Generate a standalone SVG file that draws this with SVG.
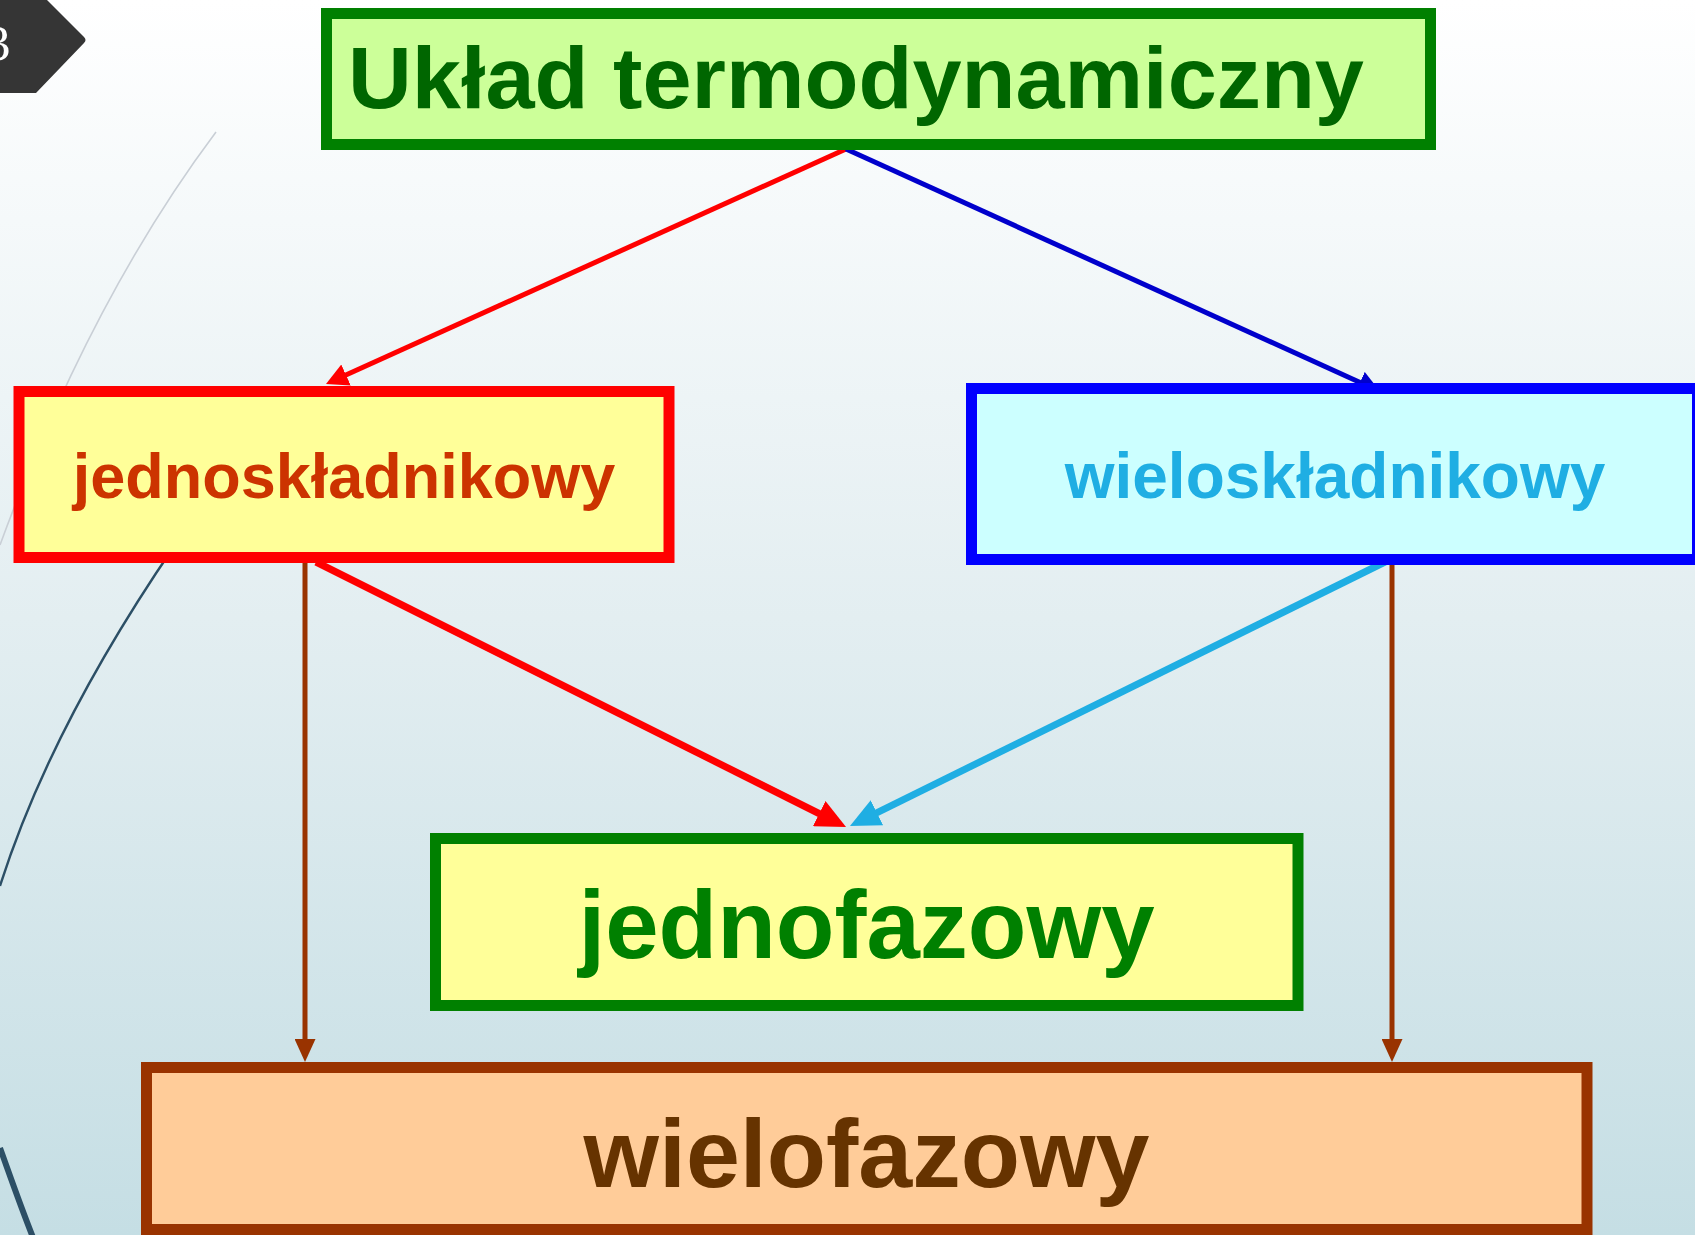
<svg xmlns="http://www.w3.org/2000/svg" width="1695" height="1235" viewBox="0 0 1695 1235">
  <defs>
    <linearGradient id="bg" x1="0" y1="0" x2="0" y2="1">
      <stop offset="0" stop-color="#FFFFFF"/>
      <stop offset="0.5" stop-color="#E3EEF1"/>
      <stop offset="1" stop-color="#C5DEE4"/>
    </linearGradient>
    <marker id="arRedS" markerUnits="userSpaceOnUse" markerWidth="22" markerHeight="23" refX="2" refY="11.5" orient="auto" viewBox="0 0 22 23">
      <path d="M0,0 L22,11.5 L0,23 z" fill="#FF0000"/>
    </marker>
    <marker id="arBlueS" markerUnits="userSpaceOnUse" markerWidth="22" markerHeight="23" refX="2" refY="11.5" orient="auto" viewBox="0 0 22 23">
      <path d="M0,0 L22,11.5 L0,23 z" fill="#0000CC"/>
    </marker>
    <marker id="arRedL" markerUnits="userSpaceOnUse" markerWidth="30" markerHeight="28" refX="2" refY="14" orient="auto" viewBox="0 0 30 28">
      <path d="M0,0 L30,14 L0,28 z" fill="#FF0000"/>
    </marker>
    <marker id="arCyanL" markerUnits="userSpaceOnUse" markerWidth="30" markerHeight="28" refX="2" refY="14" orient="auto" viewBox="0 0 30 28">
      <path d="M0,0 L30,14 L0,28 z" fill="#1FAEE3"/>
    </marker>
    <marker id="arBrown" markerUnits="userSpaceOnUse" markerWidth="23" markerHeight="21" refX="2" refY="10.5" orient="auto" viewBox="0 0 23 21">
      <path d="M0,0 L23,10.5 L0,21 z" fill="#993300"/>
    </marker>
  </defs>
  <style>
    .lbl { font-family: "Liberation Sans", Arial, sans-serif; font-weight: bold; }
    .box { stroke-width: 11; }
    .conn { fill: none; stroke-linecap: butt; }
  </style>

  <rect x="0" y="0" width="1695" height="1235" fill="url(#bg)"/>

  <!-- decorative background -->
  <g id="decor">
    <path d="M216,132 Q90,300 0,545" fill="none" stroke="#C9CFD6" stroke-width="1.6"/>
    <path d="M175,545 C110,640 40,760 0,886" fill="none" stroke="#2C4F66" stroke-width="2.4"/>
    <path d="M0,1148 C8,1170 20,1205 34,1240" fill="none" stroke="#2C4F66" stroke-width="6"/>
    <path d="M0,0 L47,0 L84,37 Q87,40 84,43 L36,93 L0,93 z" fill="#353535"/>
    <text x="-15" y="60" font-family="'Liberation Serif', 'Times New Roman', serif" font-size="51" fill="#FFFFFF">3</text>
  </g>

  <!-- connectors -->
  <g id="connectors">
    <line class="conn" x1="846" y1="149" x2="344.2" y2="375.8" stroke="#FF0000" stroke-width="5" marker-end="url(#arRedS)"/>
    <line class="conn" x1="846" y1="149" x2="1361.8" y2="383.2" stroke="#0000CC" stroke-width="5" marker-end="url(#arBlueS)"/>
    <line class="conn" x1="316" y1="562" x2="821" y2="814.5" stroke="#FF0000" stroke-width="7" marker-end="url(#arRedL)"/>
    <line class="conn" x1="1387" y1="561" x2="875.1" y2="813.6" stroke="#1FAEE3" stroke-width="7" marker-end="url(#arCyanL)"/>
    <line class="conn" x1="305" y1="557" x2="305" y2="1041" stroke="#993300" stroke-width="5" marker-end="url(#arBrown)"/>
    <line class="conn" x1="1392" y1="557" x2="1392" y2="1041" stroke="#993300" stroke-width="5" marker-end="url(#arBrown)"/>
  </g>

  <g id="node-uklad">
    <rect class="box" x="326.5" y="13.5" width="1104" height="131" fill="#CCFF99" stroke="#008000"/>
    <text class="lbl" x="348" y="108" font-size="88" fill="#006600" textLength="1016" lengthAdjust="spacingAndGlyphs">Układ termodynamiczny</text>
  </g>

  <g id="node-jednoskladnikowy">
    <rect class="box" x="19" y="391.5" width="650" height="166" fill="#FFFF99" stroke="#FF0000"/>
    <text class="lbl" x="344" y="498" font-size="63" fill="#CC3300" text-anchor="middle">jednoskładnikowy</text>
  </g>

  <g id="node-wieloskladnikowy">
    <rect class="box" x="971.5" y="388.5" width="726" height="171" fill="#CCFFFF" stroke="#0000FF"/>
    <text class="lbl" x="1335" y="498" font-size="64" fill="#1FAEE3" text-anchor="middle">wieloskładnikowy</text>
  </g>

  <g id="node-jednofazowy">
    <rect class="box" x="435.5" y="838.5" width="862.5" height="167" fill="#FFFF99" stroke="#008000"/>
    <text class="lbl" x="866.5" y="958" font-size="96" fill="#008000" text-anchor="middle">jednofazowy</text>
  </g>

  <g id="node-wielofazowy">
    <rect class="box" x="146.5" y="1067.5" width="1440.5" height="162" fill="#FFCC99" stroke="#993300"/>
    <text class="lbl" x="866.5" y="1187" font-size="97" fill="#663300" text-anchor="middle">wielofazowy</text>
  </g>
</svg>
